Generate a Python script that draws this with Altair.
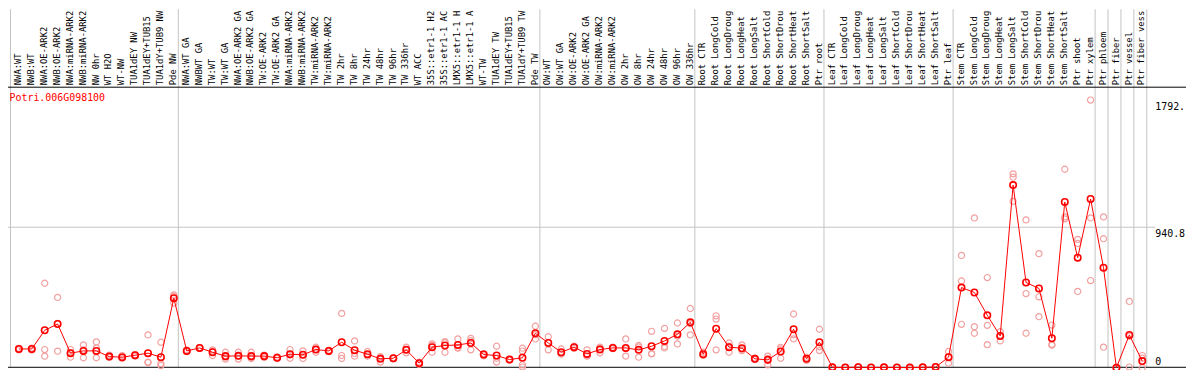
import altair as alt
import pandas as pd

gene_id = "Potri.006G098100"

labels = [
    "NWA:WT", "NWB:WT", "NWA:OE-ARK2", "NWB:OE-ARK2", "NWA:miRNA-ARK2", "NWB:miRNA-ARK2",
    "NW 0hr", "WT H2O", "WT-NW", "TUA1dEY NW", "TUA1dEY+TUB15", "TUA1dY+TUB9 NW", "Pde NW",
    "NWA:WT GA", "NWBWT GA", "TW:WT", "TW:WT GA", "NWA:OE-ARK2 GA", "NWB:OE-ARK2 GA",
    "TW:OE-ARK2", "TW:OE-ARK2 GA", "NWA:miRNA-ARK2", "NWB:miRNA-ARK2", "TW:miRNA-ARK2",
    "TW:miRNA-ARK2", "TW 2hr", "TW 8hr", "TW 24hr", "TW 48hr", "TW 96hr", "TW 336hr",
    "WT ACC", "35S::etr1-1 H2", "35S::etr1-1 AC", "LMX5::etr1-1 H", "LMX5::etr1-1 A",
    "WT-TW", "TUA1dEY TW", "TUA1dEY+TUB15", "TUA1dY+TUB9 TW", "Pde TW",
    "OW:WT", "OW:WT GA", "OW:OE-ARK2", "OW:OE-ARK2 GA", "OW:miRNA-ARK2", "OW:miRNA-ARK2",
    "OW 2hr", "OW 8hr", "OW 24hr", "OW 48hr", "OW 96hr", "OW 336hr",
    "Root CTR", "Root LongCold", "Root LongDroug", "Root LongHeat", "Root LongSalt",
    "Root ShortCold", "Root ShortDrou", "Root ShortHeat", "Root ShortSalt", "Ptr root",
    "Leaf CTR", "Leaf LongCold", "Leaf LongDroug", "Leaf LongHeat", "Leaf LongSalt",
    "Leaf ShortCold", "Leaf ShortDrou", "Leaf ShortHeat", "Leaf ShortSalt", "Ptr leaf",
    "Stem CTR", "Stem LongCold", "Stem LongDroug", "Stem LongHeat", "Stem LongSalt",
    "Stem ShortCold", "Stem ShortDrou", "Stem ShortHeat", "Stem ShortSalt", "Ptr shoot",
    "Ptr xylem",
    "Ptr phloem", "Ptr fiber", "Ptr vessel", "Ptr fiber vess",
]

means = [
    126, 126, 251, 293, 98, 113, 113, 75, 71, 84, 98, 71, 466,
    113, 133, 104, 78, 80, 78, 78, 67, 91, 87, 122, 113, 171, 118, 91, 60, 64, 120,
    31, 138, 149, 153, 166, 89, 82, 55, 67, 231,
    166, 104, 138, 93, 122, 133, 133, 120, 144, 180, 224, 304,
    91, 262, 138, 131, 60, 53, 109, 258, 60, 171,
    3, 2, 4, 2, 3, 2, 1, 3, 5, 71,
    537, 504, 351, 213, 1223, 571, 531, 198, 1110, 737, 1130,
    670, 0, 220, 45,
]

replicates = [
    [120, 130, 128], [118, 132, 128], [566, 122, 78], [471, 111, 297], [122, 71, 101],
    [153, 67, 119], [173, 133, 67], [70, 80, 85], [82, 65, 66], [88, 78, 86],
    [220, 38, 35], [171, 28, 15], [488, 477, 433],
    [120, 108, 111], [135, 130, 134], [120, 82, 110], [104, 58, 72], [104, 58, 78],
    [104, 62, 68], [85, 70, 79], [72, 62, 67], [122, 64, 87], [113, 62, 86],
    [138, 104, 124], [118, 108, 113], [364, 82, 62], [180, 78, 96], [109, 78, 86],
    [75, 38, 67], [68, 60, 64], [138, 100, 122], [38, 22, 33], [160, 104, 150],
    [175, 104, 168], [193, 131, 135], [197, 120, 181], [95, 80, 92], [144, 38, 64],
    [58, 52, 55], [131, 20, 5, 112], [278, 193, 222],
    [208, 120, 170], [126, 95, 91], [140, 130, 144], [120, 78, 81], [138, 100, 128],
    [138, 128, 133], [193, 78, 128], [149, 71, 140], [244, 93, 95], [264, 133, 143],
    [300, 160, 212], [397, 220, 295],
    [104, 85, 84], [348, 326, 120], [166, 104, 144], [153, 115, 125], [65, 55, 60],
    [78, 20, 61], [126, 64, 137], [360, 193, 221], [60, 50, 70], [258, 115, 140],
    [4, 2, 3], [3, 1, 2], [6, 3, 3], [2, 1, 3], [4, 2, 3], [3, 1, 2], [1, 0, 2],
    [4, 2, 3], [8, 3, 4], [109, 31, 73],
    [752, 581, 291], [1003, 275, 231], [604, 284, 155], [242, 180, 217],
    [1298, 1276, 1114], [990, 497, 231], [764, 475, 342], [286, 151, 157],
    [1329, 997, 1010], [859, 832, 511], [1792, 1003, 584],
    [1010, 864, 138], [0, 1, 0], [444, 5, 211], [82, 64, 0],
]

group_bounds = [0, 13, 41, 53, 63, 73, 84, 85, 86, 87, 88]
y_max = 1881.6
tick_values = [1792, 940.8]
tick_labels = ["1792.", "940.8"]
zero_label = ["0"]

n = len(labels)
df_means = pd.DataFrame({"idx": list(range(n)), "label": labels, "value": means})
rep_rows = []
for i, reps in enumerate(replicates):
    for r in reps:
        rep_rows.append({"idx": i, "value": r})
df_reps = pd.DataFrame(rep_rows)
df_bounds = pd.DataFrame({"b": group_bounds})
df_ticks = pd.DataFrame({"v": tick_values, "t": tick_labels})
df_zero = pd.DataFrame({"v": [0], "t": zero_label})
df_title = pd.DataFrame({"t": [gene_id]})

W, H = 1186, 362
xscale = alt.Scale(domain=[0, 88], range=[2.5, 1146.5])
yscale = alt.Scale(domain=[0, y_max], range=[361, 78])
FONT = "DejaVu Sans Mono"
GRID = "#c4c4c4"

vlines = alt.Chart(df_bounds).mark_rule(color=GRID, strokeWidth=1).encode(
    x=alt.X("b:Q", scale=xscale, axis=None),
    y=alt.value(0),
    y2=alt.value(360.5),
)

hgrid = alt.Chart(df_ticks).transform_filter("datum.v < 1000").mark_rule(
    color=GRID, strokeWidth=1
).encode(
    y=alt.Y("v:Q", scale=yscale, axis=None),
    x=alt.value(0),
    x2=alt.value(1155),
)

frame_top = alt.Chart(df_title).mark_rule(color="black", strokeWidth=1).encode(
    y=alt.value(78.5), x=alt.value(0), x2=alt.value(W)
)
frame_bottom = alt.Chart(df_title).mark_rule(color="black", strokeWidth=1).encode(
    y=alt.value(360.5), x=alt.value(0), x2=alt.value(W)
)

header = alt.Chart(df_means).transform_calculate(tx="datum.idx + 0.82").mark_text(
    angle=270, align="left", baseline="alphabetic", font=FONT, fontSize=8.9, color="black"
).encode(
    x=alt.X("tx:Q", scale=xscale, axis=None),
    y=alt.value(76.5),
    text="label:N",
)

reps_layer = alt.Chart(df_reps).transform_calculate(px="datum.idx + 0.65").mark_point(
    shape="circle", filled=False, size=38, strokeWidth=1.2, color="#f2a0a0", opacity=1
).encode(
    x=alt.X("px:Q", scale=xscale, axis=None),
    y=alt.Y("value:Q", scale=yscale, axis=None),
)

line_layer = alt.Chart(df_means).transform_calculate(px="datum.idx + 0.65").mark_line(
    color="#ff0000", strokeWidth=1
).encode(
    x=alt.X("px:Q", scale=xscale, axis=None),
    y=alt.Y("value:Q", scale=yscale, axis=None),
    order="idx:Q",
)

mean_layer = alt.Chart(df_means).transform_calculate(px="datum.idx + 0.65").mark_point(
    shape="circle", filled=False, size=42, strokeWidth=1.6, color="#ff0000", opacity=1
).encode(
    x=alt.X("px:Q", scale=xscale, axis=None),
    y=alt.Y("value:Q", scale=yscale, axis=None),
)

tick_text = alt.Chart(df_ticks).mark_text(
    align="left", baseline="top", font=FONT, fontSize=10, color="black", dy=2
).encode(
    x=alt.value(1155),
    y=alt.Y("v:Q", scale=yscale, axis=None),
    text="t:N",
)
zero_text = alt.Chart(df_zero).mark_text(
    align="left", baseline="alphabetic", font=FONT, fontSize=10, color="black", dy=-3
).encode(
    x=alt.value(1155),
    y=alt.Y("v:Q", scale=yscale, axis=None),
    text="t:N",
)

title_text = alt.Chart(df_title).mark_text(
    align="left", baseline="top", font=FONT, fontSize=10, color="#ff0000"
).encode(
    x=alt.value(1.5),
    y=alt.value(84),
    text="t:N",
)

chart = alt.layer(
    vlines, hgrid, frame_top, frame_bottom, header,
    reps_layer, line_layer, mean_layer, tick_text, zero_text, title_text
).properties(
    width=W, height=H, autosize=alt.AutoSizeParams(type="none"), padding=0
).configure_view(stroke=None)

chart.save("out.html", embed_options={"renderer": "svg", "actions": False})
